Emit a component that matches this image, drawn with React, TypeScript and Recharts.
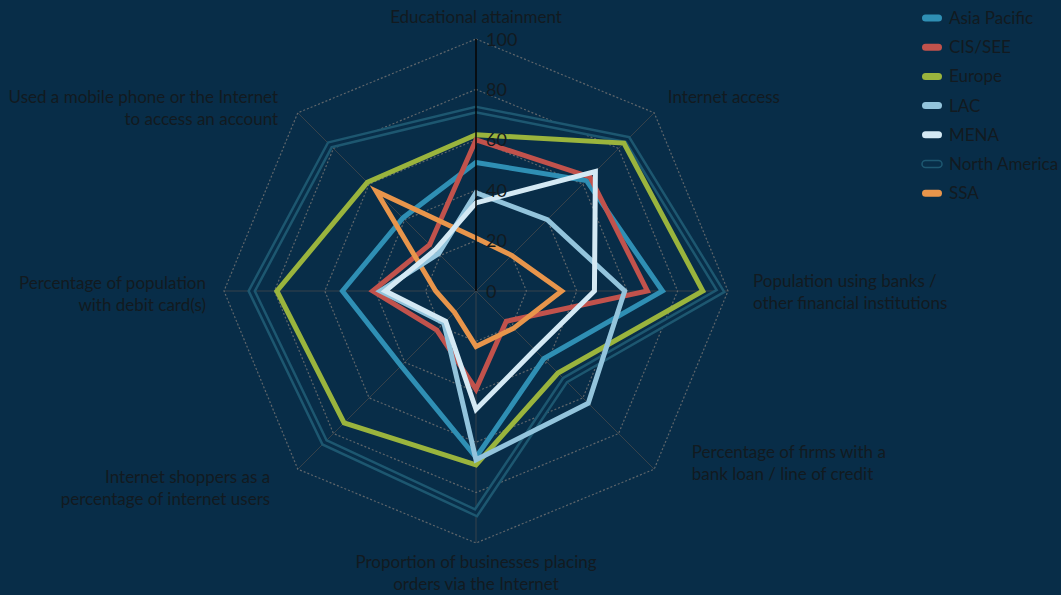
import React from 'react';
import { RadarChart, Radar, PolarGrid, PolarAngleAxis, PolarRadiusAxis, Legend } from 'recharts';

const axisLabelLines: string[][] = [
  ['Educational attainment'],
  ['Internet access'],
  ['Population using banks /', 'other financial institutions'],
  ['Percentage of firms with a', 'bank loan / line of credit'],
  ['Proportion of businesses placing', 'orders via the Internet'],
  ['Internet shoppers as a', 'percentage of internet users'],
  ['Percentage of population', 'with debit card(s)'],
  ['Used a mobile phone or the Internet', 'to access an account'],
];
const categories = axisLabelLines.map((l) => l.join(' '));

const asiaPacific = [51, 62, 74, 38, 66, 42, 53, 41];
const cisSee = [60, 64, 68, 17, 39, 22, 41, 26];
const europe = [62, 83, 90, 46, 69, 74, 79, 61];
const lac = [39, 40, 59, 63, 67, 18, 38, 21];
const mena = [35, 67, 47, 33, 47, 17, 36, 23];
const northAmerica = [72, 85, 97, 50, 88, 85, 89, 82];
const ssa = [21, 20, 34, 21, 22, 12, 16, 56];

const radiusTicks = [0, 20, 40, 60, 80, 100];

const BG = '#082d48';
const TEXT = '#121a20';

const series = [
  { key: 'asiaPacific', name: 'Asia Pacific', color: '#2f8fb4' },
  { key: 'cisSee', name: 'CIS/SEE', color: '#c1524c' },
  { key: 'europe', name: 'Europe', color: '#9ab43d' },
  { key: 'lac', name: 'LAC', color: '#93c4dc' },
  { key: 'mena', name: 'MENA', color: '#d4e9f4' },
  { key: 'northAmerica', name: 'North America', color: '#1d5770' },
  { key: 'ssa', name: 'SSA', color: '#e8954b' },
];

const data = categories.map((c, i) => ({
  axis: c,
  asiaPacific: asiaPacific[i],
  cisSee: cisSee[i],
  europe: europe[i],
  lac: lac[i],
  mena: mena[i],
  northAmerica: northAmerica[i],
  ssa: ssa[i],
}));

const labelLayout = [
  { anchor: 'middle', dx: 0, dy: -8 },
  { anchor: 'start', dx: 8, dy: -4 },
  { anchor: 'start', dx: 17, dy: -4 },
  { anchor: 'start', dx: 32, dy: -17 },
  { anchor: 'middle', dx: 0, dy: 17 },
  { anchor: 'end', dx: -22, dy: 8 },
  { anchor: 'end', dx: -10, dy: -2 },
  { anchor: 'end', dx: -14, dy: -4 },
];

const FONT = 'Lato, "Open Sans", sans-serif';

const AngleTick = (props: any) => {
  const { x, y, payload, index } = props;
  const i = typeof index === 'number' ? index : categories.indexOf(payload.value);
  const lay = labelLayout[i];
  const lines = axisLabelLines[i];
  return (
    <text
      x={x + lay.dx}
      y={y + lay.dy}
      textAnchor={lay.anchor as any}
      fill={TEXT}
      fontSize={17}
      fontFamily={FONT}
    >
      {lines.map((ln, k) => (
        <tspan key={k} x={x + lay.dx} dy={k === 0 ? 0 : 22}>
          {ln}
        </tspan>
      ))}
    </text>
  );
};

const RadiusTick = (props: any) => {
  const { x, y, payload } = props;
  return (
    <text x={x + 10} y={y + 6.5} fill={TEXT} fontSize={18} fontFamily={FONT} textAnchor="start">
      {payload.value}
    </text>
  );
};

const renderLegend = () => (
  <svg width={150} height={210}>
    {series.map((s, i) => {
      const cy = 18 + i * 29.2;
      const isNA = s.key === 'northAmerica';
      return (
        <g key={s.key}>
          <rect x={8} y={cy - 3.5} width={20} height={7} rx={3.5} fill={isNA ? BG : s.color} stroke={isNA ? s.color : 'none'} strokeWidth={isNA ? 1.5 : 0} />
          <text x={35} y={cy + 6} fill={TEXT} fontSize={17} fontFamily={FONT}>
            {s.name}
          </text>
        </g>
      );
    })}
  </svg>
);

export default function App() {
  return (
    <div style={{ position: 'absolute', left: 0, top: 0, width: 1061, height: 595, background: BG, overflow: 'hidden' }}>
      <RadarChart width={1061} height={595} data={data} cx={476} cy={291} outerRadius={252} margin={{ top: 0, right: 0, bottom: 0, left: 0 }}>
        <PolarGrid gridType="polygon" radialLines={true} polarRadius={[]} stroke="#36424b" strokeWidth={1} />
        <PolarGrid gridType="polygon" radialLines={false} stroke="#5f666b" strokeWidth={1.2} strokeDasharray="2 2" />
        <PolarAngleAxis dataKey="axis" tick={<AngleTick />} tickLine={false} axisLine={false} />
        <PolarRadiusAxis
          angle={90}
          domain={[0, 100]}
          ticks={radiusTicks as any}
          tickCount={6}
          axisLine={{ stroke: '#000000', strokeWidth: 1.5 }}
          tickLine={false}
          tick={<RadiusTick />}
        />
        <Radar dataKey="northAmerica" name="North America" stroke="#1d5770" strokeWidth={8} fill="none" fillOpacity={0} dot={false} isAnimationActive={false} />
        <Radar dataKey="northAmerica" name="na-inner" legendType="none" stroke={BG} strokeWidth={3} fill="none" fillOpacity={0} dot={false} isAnimationActive={false} />
        <Radar dataKey="europe" name="Europe" stroke="#9ab43d" strokeWidth={5} fill="none" fillOpacity={0} dot={false} isAnimationActive={false} />
        <Radar dataKey="asiaPacific" name="Asia Pacific" stroke="#2f8fb4" strokeWidth={5} fill="none" fillOpacity={0} dot={false} isAnimationActive={false} />
        <Radar dataKey="cisSee" name="CIS/SEE" stroke="#c1524c" strokeWidth={5} fill="none" fillOpacity={0} dot={false} isAnimationActive={false} />
        <Radar dataKey="ssa" name="SSA" stroke="#e8954b" strokeWidth={5} fill="none" fillOpacity={0} dot={false} isAnimationActive={false} />
        <Radar dataKey="lac" name="LAC" stroke="#93c4dc" strokeWidth={5} fill="none" fillOpacity={0} dot={false} isAnimationActive={false} />
        <Radar dataKey="mena" name="MENA" stroke="#d4e9f4" strokeWidth={5} fill="none" fillOpacity={0} dot={false} isAnimationActive={false} />
        <Legend content={renderLegend} wrapperStyle={{ position: 'absolute', top: 0, left: 914, width: 150 }} />
      </RadarChart>
    </div>
  );
}
